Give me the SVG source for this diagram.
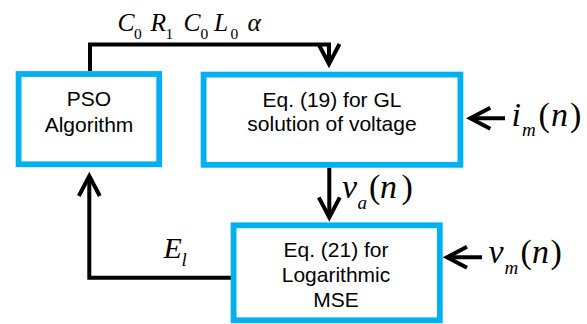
<svg xmlns="http://www.w3.org/2000/svg" width="587" height="324" viewBox="0 0 587 324">
<style>
.box{fill:#fff;stroke:#00B0F0;stroke-width:5.8}
.lbl{font-family:"Liberation Sans",Arial,sans-serif;font-size:21px;fill:#000;text-anchor:middle}
.m{font-family:"Liberation Serif","Times New Roman",serif;font-style:italic;fill:#000}
.ms{font-family:"Liberation Serif","Times New Roman",serif;font-style:normal;fill:#000}
.con{fill:none;stroke:#000;stroke-width:4}
</style>
<defs>
<marker id="chev" markerUnits="userSpaceOnUse" markerWidth="40" markerHeight="40" viewBox="-30 -20 40 40" refX="0" refY="0" orient="auto" overflow="visible">
<path d="M-20,-10.5 L0,0 L-20,10.5" fill="none" stroke="#000" stroke-width="4"/>
</marker>
</defs>
<rect width="587" height="324" fill="#fff"/>
<g id="connectors">
<path class="con" d="M90,71 V44.5 H329 V64" marker-end="url(#chev)"/>
<path class="con" d="M329.3,167.7 V217.4" marker-end="url(#chev)"/>
<path class="con" d="M231,277.7 H89.3 V176" marker-end="url(#chev)"/>
<path class="con" d="M505,118.3 H470.3" marker-end="url(#chev)"/>
<path class="con" d="M482,257.3 H447" marker-end="url(#chev)"/>
<g id="param-label">
<text class="m" x="117.5" y="30.5" font-size="25.5">C</text>
<text class="ms" x="134" y="38.5" font-size="15.5">0</text>
<text class="m" x="150.5" y="30.5" font-size="25.5">R</text>
<text class="ms" x="165.5" y="38.5" font-size="15.5">1</text>
<text class="m" x="183.5" y="30.5" font-size="25.5">C</text>
<text class="ms" x="200.5" y="38.5" font-size="15.5">0</text>
<text class="m" x="214" y="30.5" font-size="25.5">L</text>
<text class="ms" x="230.5" y="38.5" font-size="15.5">0</text>
<text class="m" x="247.5" y="30.5" font-size="25.5">α</text>
</g>
<g id="va-label">
<text class="m" x="342" y="197.5" font-size="34">v</text>
<text class="m" x="357.5" y="208.5" font-size="19">a</text>
<text class="ms" x="369" y="197.5" font-size="34">(</text>
<text class="m" x="380" y="197.5" font-size="34">n</text>
<text class="ms" x="401.5" y="197.5" font-size="34">)</text>
</g>
<g id="el-label">
<text class="m" x="163.5" y="258.3" font-size="30">E</text>
<text class="m" x="181.5" y="265.5" font-size="19">l</text>
</g>
<g id="im-label">
<text class="m" x="511.5" y="125.5" font-size="34">i</text>
<text class="m" x="522" y="135.5" font-size="19">m</text>
<text class="ms" x="538.5" y="125.5" font-size="34">(</text>
<text class="m" x="551" y="125.5" font-size="34">n</text>
<text class="ms" x="570" y="125.5" font-size="34">)</text>
</g>
<g id="vm-label">
<text class="m" x="488.5" y="262.5" font-size="34">v</text>
<text class="m" x="504.5" y="273.5" font-size="19">m</text>
<text class="ms" x="520.5" y="262.5" font-size="34">(</text>
<text class="m" x="532" y="262.5" font-size="34">n</text>
<text class="ms" x="550.5" y="262.5" font-size="34">)</text>
</g>
</g>
<g id="pso">
<rect class="box" x="18.6" y="74" width="140.6" height="90.3"/>
<text class="lbl" x="89" y="106">PSO</text>
<text class="lbl" x="89" y="132">Algorithm</text>
</g>
<g id="eq19">
<rect class="box" x="203.6" y="74.6" width="256.8" height="90.2"/>
<text class="lbl" x="332" y="106.5">Eq. (19) for GL</text>
<text class="lbl" x="332" y="131">solution of voltage</text>
</g>
<g id="eq21">
<rect class="box" x="233.6" y="225.3" width="206.2" height="95"/>
<text class="lbl" x="336" y="256.5">Eq. (21) for</text>
<text class="lbl" x="336" y="281.5">Logarithmic</text>
<text class="lbl" x="336" y="306.5">MSE</text>
</g>
</svg>
